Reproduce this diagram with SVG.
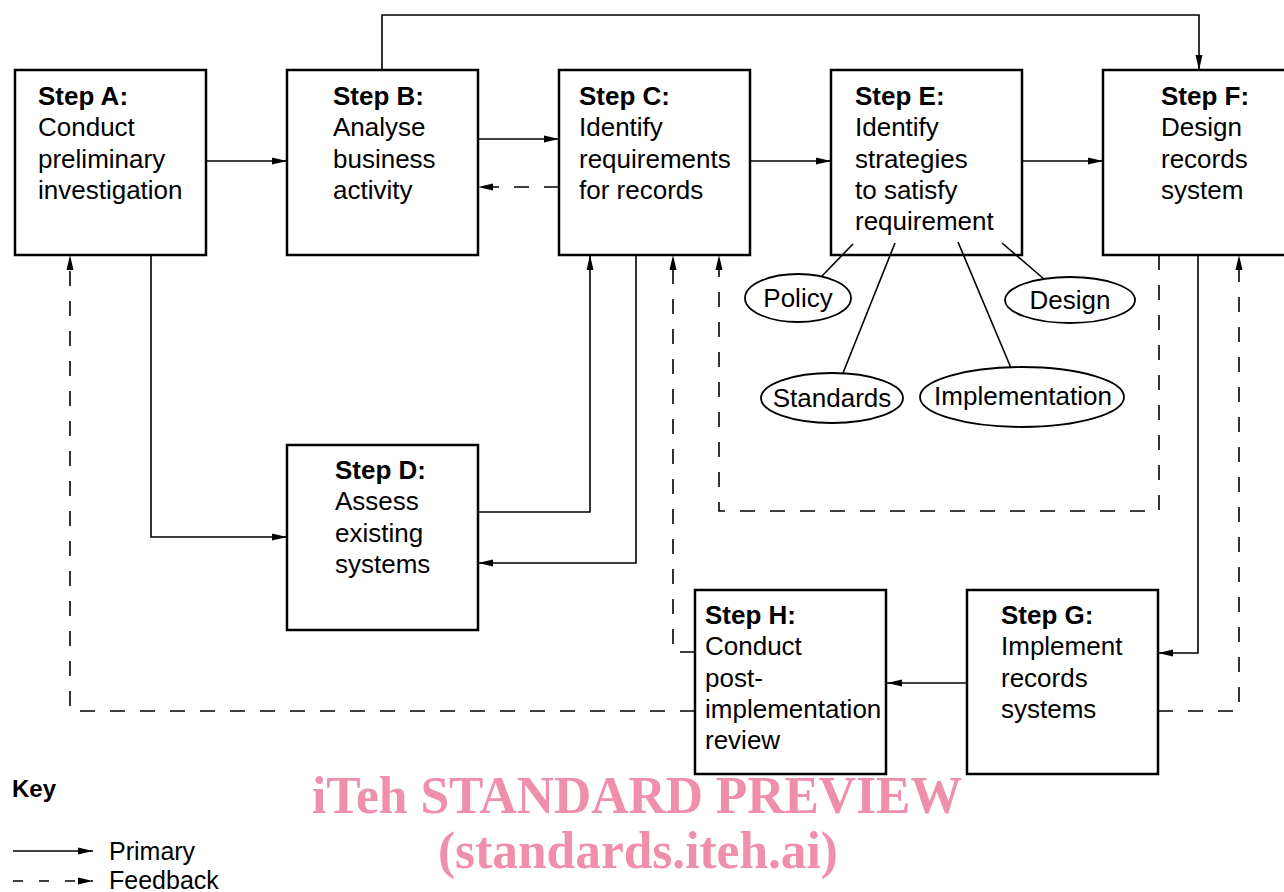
<svg xmlns="http://www.w3.org/2000/svg" width="1284" height="892" viewBox="0 0 1284 892">
  <defs>
    <marker id="ah" markerUnits="userSpaceOnUse" markerWidth="16" markerHeight="8" refX="15" refY="4" orient="auto">
      <path d="M0,0.5 L15,4 L0,7.5 Z" fill="#000"/>
    </marker>
    <style>
      .box { fill: #fff; stroke: #000; stroke-width: 2.5; }
      .oval { fill: #fff; stroke: #000; stroke-width: 1.8; }
      .t { font-family: "Liberation Sans", Arial, sans-serif; font-size: 26px; fill: #000; }
      .b { font-weight: bold; }
      .pri { fill: none; stroke: #000; stroke-width: 1.6; marker-end: url(#ah); }
      .fb { fill: none; stroke: #000; stroke-width: 1.6; stroke-dasharray: 15 15; marker-end: url(#ah); }
      .ln { fill: none; stroke: #000; stroke-width: 1.6; }
      .wm { font-family: "Liberation Serif", "Times New Roman", serif; font-weight: bold; font-size: 52px; fill: #ef8fab; }
    </style>
  </defs>

  <rect width="1284" height="892" fill="#fff"/>

  <g id="stepA">
    <rect class="box" x="15" y="70" width="191" height="185"/>
    <text class="t b" x="38" y="105">Step A:</text>
    <text class="t" x="38" y="136">Conduct</text>
    <text class="t" x="38" y="168">preliminary</text>
    <text class="t" x="38" y="199">investigation</text>
  </g>

  <g id="stepB">
    <rect class="box" x="287" y="70" width="191" height="185"/>
    <text class="t b" x="333" y="105">Step B:</text>
    <text class="t" x="333" y="136">Analyse</text>
    <text class="t" x="333" y="168">business</text>
    <text class="t" x="333" y="199">activity</text>
  </g>

  <g id="stepC">
    <rect class="box" x="559" y="70" width="191" height="185"/>
    <text class="t b" x="579" y="105">Step C:</text>
    <text class="t" x="579" y="136">Identify</text>
    <text class="t" x="579" y="168">requirements</text>
    <text class="t" x="579" y="199">for records</text>
  </g>

  <g id="stepE">
    <rect class="box" x="831" y="70" width="191" height="185"/>
    <text class="t b" x="855" y="105">Step E:</text>
    <text class="t" x="855" y="136">Identify</text>
    <text class="t" x="855" y="168">strategies</text>
    <text class="t" x="855" y="199">to satisfy</text>
    <text class="t" x="855" y="230">requirement</text>
  </g>

  <g id="stepF">
    <rect class="box" x="1103" y="70" width="195" height="185"/>
    <text class="t b" x="1161" y="105">Step F:</text>
    <text class="t" x="1161" y="136">Design</text>
    <text class="t" x="1161" y="168">records</text>
    <text class="t" x="1161" y="199">system</text>
  </g>

  <g id="stepD">
    <rect class="box" x="287" y="445" width="191" height="185"/>
    <text class="t b" x="335" y="479">Step D:</text>
    <text class="t" x="335" y="510">Assess</text>
    <text class="t" x="335" y="542">existing</text>
    <text class="t" x="335" y="573">systems</text>
  </g>

  <g id="stepH">
    <rect class="box" x="695" y="590" width="191" height="184"/>
    <text class="t b" x="705" y="624">Step H:</text>
    <text class="t" x="705" y="655">Conduct</text>
    <text class="t" x="705" y="687">post-</text>
    <text class="t" x="705" y="718">implementation</text>
    <text class="t" x="705" y="749">review</text>
  </g>

  <g id="stepG">
    <rect class="box" x="967" y="590" width="191" height="184"/>
    <text class="t b" x="1001" y="624">Step G:</text>
    <text class="t" x="1001" y="655">Implement</text>
    <text class="t" x="1001" y="687">records</text>
    <text class="t" x="1001" y="718">systems</text>
  </g>

  <g id="policy">
    <ellipse class="oval" cx="798" cy="298" rx="53" ry="24"/>
    <text class="t" x="798" y="307" text-anchor="middle">Policy</text>
  </g>
  <g id="design">
    <ellipse class="oval" cx="1070" cy="300" rx="65" ry="23"/>
    <text class="t" x="1070" y="309" text-anchor="middle">Design</text>
  </g>
  <g id="standards">
    <ellipse class="oval" cx="832" cy="398" rx="71" ry="25"/>
    <text class="t" x="832" y="407" text-anchor="middle">Standards</text>
  </g>
  <g id="implementation">
    <ellipse class="oval" cx="1022" cy="397" rx="102" ry="30"/>
    <text class="t" x="1023" y="405" text-anchor="middle">Implementation</text>
  </g>

  <!-- connectors, drawn over the boxes so the strategy links reach into Step E -->
  <g id="connectors">
    <!-- primary flow -->
    <path class="pri" d="M206,161 H287"/>
    <path class="pri" d="M478,139 H559"/>
    <path class="pri" d="M750,161 H831"/>
    <path class="pri" d="M1022,161 H1103"/>
    <path class="pri" d="M382,70 V15 H1199 V70"/>
    <path class="pri" d="M151,255 V537 H287"/>
    <path class="pri" d="M478,512 H590 V255"/>
    <path class="pri" d="M636,255 V563 H478"/>
    <path class="pri" d="M1198,255 V653 H1158"/>
    <path class="pri" d="M967,683 H887"/>
    <!-- feedback -->
    <path class="fb" d="M559,187 H478"/>
    <path class="fb" d="M695,652 H673 V255"/>
    <path class="fb" d="M695,711 H70 V255"/>
    <path class="fb" d="M1159,255 V511 H719 V255"/>
    <path class="fb" d="M1158,711 H1239 V255"/>
    <!-- strategy links from Step E -->
    <path class="ln" d="M853,244 L822,276"/>
    <path class="ln" d="M895,243 L843,373"/>
    <path class="ln" d="M958,242 L1011,368"/>
    <path class="ln" d="M1002,243 L1044,279"/>
  </g>

  <g id="key">
    <text class="t b" x="12" y="797" style="font-size:24px">Key</text>
    <path class="pri" d="M13,851 H93"/>
    <path class="fb" d="M13,881 H93" style="stroke-dasharray:10 16"/>
    <text class="t" x="109" y="860" style="font-size:25px">Primary</text>
    <text class="t" x="109" y="889" style="font-size:25px">Feedback</text>
  </g>

  <g id="watermark">
    <text class="wm" x="637" y="813" text-anchor="middle" textLength="650" lengthAdjust="spacingAndGlyphs">iTeh STANDARD PREVIEW</text>
    <text class="wm" x="638" y="868" text-anchor="middle" textLength="400" lengthAdjust="spacingAndGlyphs">(standards.iteh.ai)</text>
  </g>
</svg>
